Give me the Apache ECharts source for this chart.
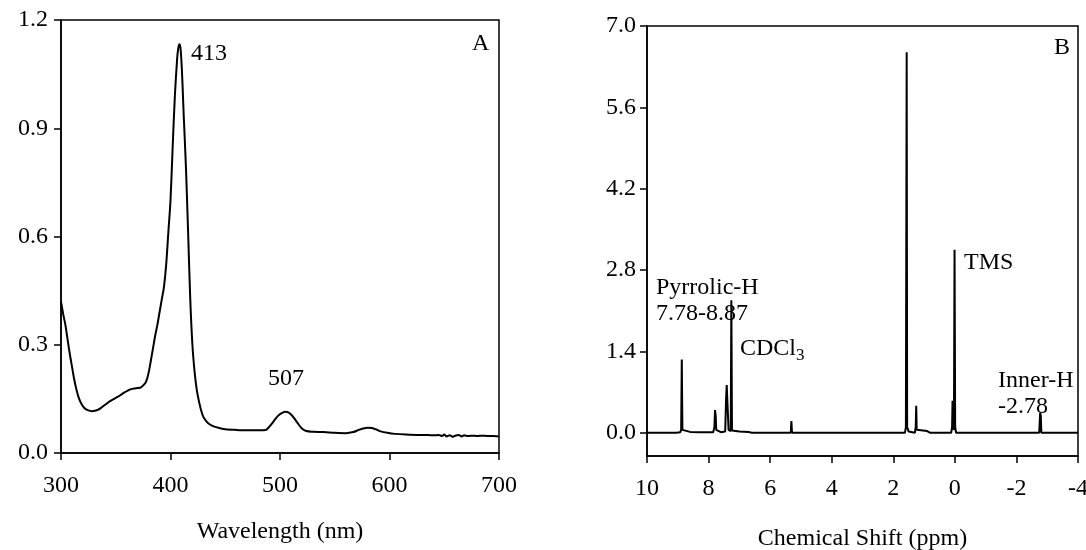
<!DOCTYPE html>
<html>
<head>
<meta charset="utf-8">
<script src="https://cdn.jsdelivr.net/npm/echarts@6/dist/echarts.min.js"></script>
<style>html,body{margin:0;padding:0;background:#fff}#c{width:1086px;height:550px}</style>
</head>
<body>
<div id="c"></div>
<script>
// UV-Vis spectrum (panel A)
const uvWavelength = [300,302,304,306,308,310,312,314,316,318,320,322,325,328,331,334,337,340,343,346,349,352,355,358,361,364,367,370,373,376,378,380,382,384,386,388,390,392,394,396,398,400,402,404,406,407,408,409,410,411,412,414,416,418,420,422,424,426,428,430,433,436,440,445,450,460,470,480,487,490,493,496,499,502,505,508,511,514,517,520,524,530,540,550,560,567,572,576,580,584,588,592,598,605,615,625,635,640,645,648,650,652,655,658,660,663,666,668,672,676,680,685,690,695,700];
const uvAbsorbance = [0.42,0.385,0.355,0.315,0.275,0.24,0.205,0.177,0.155,0.14,0.13,0.123,0.118,0.116,0.117,0.12,0.126,0.133,0.14,0.146,0.151,0.156,0.162,0.168,0.173,0.177,0.179,0.18,0.182,0.19,0.2,0.222,0.255,0.29,0.325,0.355,0.39,0.425,0.46,0.52,0.61,0.7,0.85,0.99,1.09,1.12,1.133,1.125,1.085,1.02,0.94,0.8,0.62,0.43,0.3,0.225,0.175,0.143,0.118,0.1,0.087,0.079,0.073,0.069,0.066,0.064,0.063,0.063,0.064,0.072,0.083,0.095,0.105,0.111,0.114,0.112,0.104,0.092,0.079,0.068,0.061,0.059,0.058,0.056,0.055,0.058,0.064,0.068,0.07,0.069,0.065,0.06,0.056,0.053,0.051,0.05,0.05,0.049,0.05,0.047,0.051,0.046,0.049,0.045,0.048,0.05,0.046,0.049,0.047,0.048,0.047,0.048,0.047,0.047,0.046];
const uvXTicks = [300,400,500,600,700];
const uvYTicks = [0.0,0.3,0.6,0.9,1.2];

// 1H NMR spectrum (panel B)
const nmrShift = [10.0,9.05,9.0,8.92,8.89,8.87,8.85,8.82,8.6,8.3,7.85,7.81,7.79,7.77,7.75,7.6,7.46,7.43,7.41,7.39,7.37,7.35,7.28,7.26,7.24,7.0,6.7,6.6,5.33,5.31,5.29,4.82,4.80,4.78,4.22,4.20,4.18,2.28,2.25,2.22,2.08,2.05,2.02,2.0,1.62,1.59,1.565,1.55,1.5,1.3,1.27,1.255,1.24,1.2,0.9,0.85,0.8,0.12,0.09,0.075,0.06,0.03,0.01,-0.01,-0.04,-2.74,-2.77,-2.79,-2.81,-4.0];
const nmrIntensity = [0,0,0.01,0.01,0.05,1.26,0.05,0.02,0.015,0.01,0.01,0.1,0.39,0.30,0.05,0.01,0.02,0.6,0.82,0.55,0.3,0.05,0.03,2.28,0.04,0.02,0.015,0,0,0.2,0,0,0.02,0,0,0.015,0,0,0.02,0,0,0.03,0.02,0,0,0.1,6.55,0.1,0.02,0,0.1,0.465,0.05,0.02,0.03,0.03,0,0,0.1,0.55,0.1,0.05,3.15,0.1,0,0,0.34,0.3,0,0];
const nmrXTicks = [10,8,6,4,2,0,-2,-4];
const nmrYTicks = [0.0,1.4,2.8,4.2,5.6,7.0];

const FONT = '"Liberation Serif", "Times New Roman", serif';
const FS = 24;
const chart = echarts.init(document.getElementById('c'), null, {renderer: 'canvas'});

function axisCommon() {
  return {
    axisLine: {show: true, onZero: false, lineStyle: {color: '#000', width: 1.5}},
    splitLine: {show: false},
    nameTextStyle: {color: '#000', fontFamily: FONT, fontSize: FS}
  };
}
function tick(vals) {
  return {show: true, inside: false, length: 7, lineStyle: {color: '#000', width: 1.5}, customValues: vals};
}

const uvData = uvWavelength.map((w, i) => [w, uvAbsorbance[i]]);
const nmrData = nmrShift.map((s, i) => [s, nmrIntensity[i]]);

chart.setOption({
  backgroundColor: '#fff',
  animation: false,
  grid: [
    {left: 61, top: 20, width: 438, height: 433, show: true, borderColor: '#000', borderWidth: 1.5, containLabel: false, outerBoundsMode: 'none'},
    {left: 647, top: 26, width: 431, height: 430, show: true, borderColor: '#000', borderWidth: 1.5, containLabel: false, outerBoundsMode: 'none'}
  ],
  xAxis: [
    Object.assign(axisCommon(), {
      type: 'value', gridIndex: 0, min: 300, max: 700, interval: 100,
      name: 'Wavelength (nm)', nameLocation: 'middle', nameGap: 67,
      axisLabel: {color: '#000', fontFamily: FONT, fontSize: FS, margin: 21, customValues: uvXTicks, formatter: v => String(v)},
      axisTick: tick(uvXTicks)
    }),
    Object.assign(axisCommon(), {
      type: 'value', gridIndex: 1, min: -4, max: 10, interval: 2, inverse: true,
      name: 'Chemical Shift (ppm)', nameLocation: 'middle', nameGap: 71,
      axisLabel: {color: '#000', fontFamily: FONT, fontSize: FS, margin: 21, customValues: nmrXTicks, formatter: v => String(v)},
      axisTick: tick(nmrXTicks)
    })
  ],
  yAxis: [
    Object.assign(axisCommon(), {
      type: 'value', gridIndex: 0, min: 0, max: 1.2, interval: 0.3,
      axisLabel: {color: '#000', fontFamily: FONT, fontSize: FS, margin: 13, customValues: uvYTicks, formatter: v => v.toFixed(1)},
      axisTick: tick(uvYTicks)
    }),
    Object.assign(axisCommon(), {
      type: 'value', gridIndex: 1, min: -0.4, max: 7.0,
      axisLabel: {color: '#000', fontFamily: FONT, fontSize: FS, margin: 11, customValues: nmrYTicks, formatter: v => v.toFixed(1)},
      axisTick: tick(nmrYTicks)
    })
  ],
  series: [
    {type: 'line', xAxisIndex: 0, yAxisIndex: 0, data: uvData, showSymbol: false, smooth: 0.3,
     lineStyle: {color: '#000', width: 2}, silent: true},
    {type: 'line', xAxisIndex: 1, yAxisIndex: 1, data: nmrData, showSymbol: false,
     lineStyle: {color: '#000', width: 2}, silent: true}
  ],
  graphic: [
    {type: 'text', left: 472, top: 32, style: {text: 'A', font: FS + 'px ' + FONT, fill: '#000'}},
    {type: 'text', left: 191, top: 42, style: {text: '413', font: FS + 'px ' + FONT, fill: '#000'}},
    {type: 'text', left: 268, top: 367, style: {text: '507', font: FS + 'px ' + FONT, fill: '#000'}},
    {type: 'text', left: 1054, top: 36, style: {text: 'B', font: FS + 'px ' + FONT, fill: '#000'}},
    {type: 'text', left: 656, top: 276, style: {text: 'Pyrrolic-H', font: FS + 'px ' + FONT, fill: '#000'}},
    {type: 'text', left: 656, top: 302, style: {text: '7.78-8.87', font: FS + 'px ' + FONT, fill: '#000'}},
    {type: 'text', left: 740, top: 337, style: {
      text: '{a|CDCl}{s|3}',
      rich: {a: {fontFamily: FONT, fontSize: FS, fill: '#000', color: '#000'},
             s: {fontFamily: FONT, fontSize: 17, fill: '#000', color: '#000', verticalAlign: 'bottom', padding: [14, 0, 0, 0]}}
    }},
    {type: 'text', left: 964, top: 251, style: {text: 'TMS', font: FS + 'px ' + FONT, fill: '#000'}},
    {type: 'text', left: 998, top: 369, style: {text: 'Inner-H', font: FS + 'px ' + FONT, fill: '#000'}},
    {type: 'text', left: 998, top: 395, style: {text: '-2.78', font: FS + 'px ' + FONT, fill: '#000'}}
  ]
});
</script>
</body>
</html>
